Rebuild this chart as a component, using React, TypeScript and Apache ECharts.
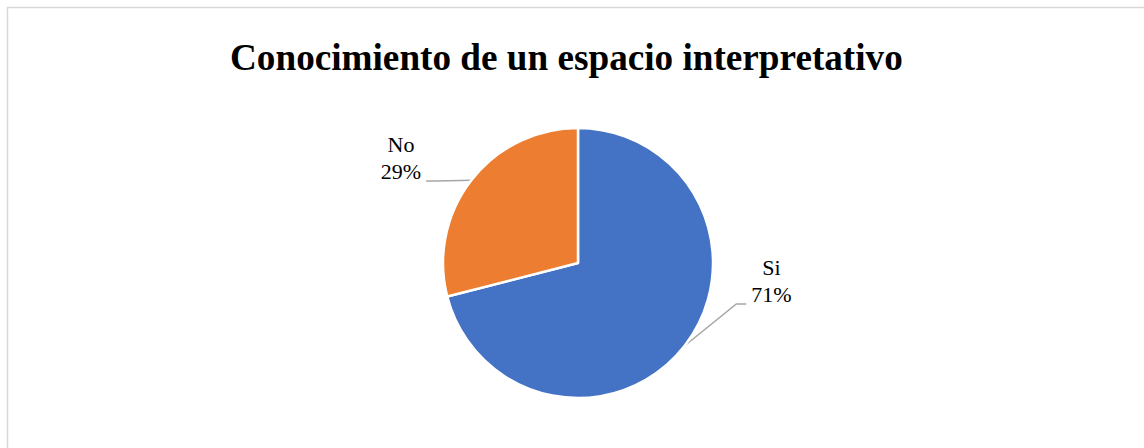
import React, { useEffect, useRef } from "react";
import * as echarts from "echarts";

const titleText = "Conocimiento de un espacio interpretativo";
const categories = ["Si", "No"];
const values = [71, 29];
const colors = ["#4472C4", "#ED7D31"];
const labelPos = [
  { x: 771.5, y: 304 },
  { x: 401, y: 181 },
];

export default function App() {
  const ref = useRef<HTMLDivElement>(null);
  useEffect(() => {
    document.body.style.margin = "0";
    const chart = echarts.init(ref.current!, null, { renderer: "svg" });
    chart.setOption({
      animation: false,
      backgroundColor: "#ffffff",
      title: {
        text: titleText,
        left: 225,
        top: 34,
        textStyle: {
          fontFamily: "Liberation Serif",
          fontWeight: "bold",
          fontSize: 37.2,
          color: "#000000",
        },
      },
      graphic: [
        {
          type: "rect",
          shape: { x: 7.5, y: 7.5, width: 1300, height: 600 },
          style: { fill: "none", stroke: "#d9d9d9", lineWidth: 1.5 },
          silent: true,
        },
      ],
      series: [
        {
          type: "pie",
          center: [578, 263],
          radius: 135,
          startAngle: 90,
          clockwise: true,
          itemStyle: { borderColor: "#ffffff", borderWidth: 2.5 },
          label: {
            show: true,
            position: "outside",
            formatter: "{t|{b}}\n{t|{d}%}\n{s| }",
            align: "center",
            padding: [0, 5, 0, 5],
            backgroundColor: "rgba(0,0,0,0)",
            rich: {
              t: {
                fontFamily: "Liberation Serif",
                fontSize: 22,
                lineHeight: 27,
                color: "#000000",
                align: "center",
              },
              s: {
                fontSize: 10,
                lineHeight: 47,
              },
            },
          },
          labelLine: {
            show: true,
            length: 10,
            length2: 10,
            lineStyle: { color: "#a6a6a6", width: 1.5 },
          },
          labelLayout: (params: any) => {
            const p = labelPos[params.dataIndex];
            return { x: p.x, y: p.y, align: "center", verticalAlign: "middle" };
          },
          data: categories.map((name, i) => ({
            name,
            value: values[i],
            itemStyle: { color: colors[i] },
          })),
        },
      ],
    });
    return () => chart.dispose();
  }, []);
  return <div ref={ref} style={{ width: 1144, height: 448 }} />;
}
